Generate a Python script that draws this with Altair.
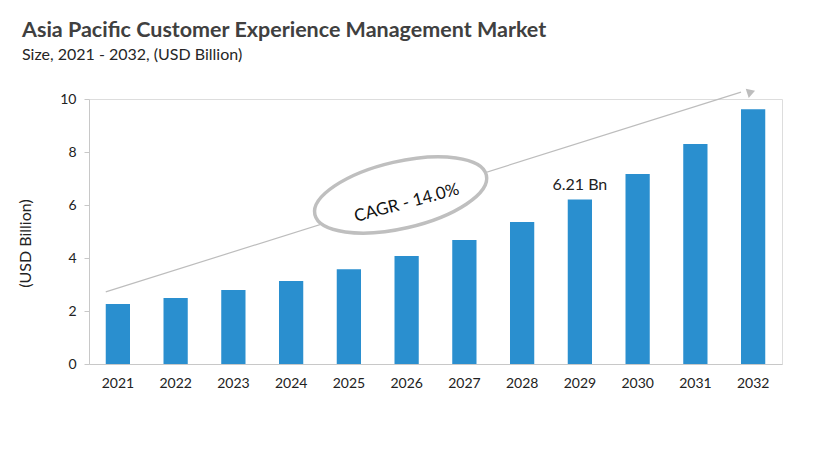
import altair as alt
import pandas as pd

years = ["2021", "2022", "2023", "2024", "2025", "2026", "2027", "2028", "2029", "2030", "2031", "2032"]
values = [2.26, 2.49, 2.79, 3.13, 3.58, 4.08, 4.68, 5.36, 6.21, 7.17, 8.30, 9.61]

label_year = ["2029"]
label_value = [6.21]
label_text = ["6.21 Bn"]

arrow_years = ["2021", "2032"]
arrow_values = [2.72, 10.26]

cagr_year = ["2026"]
cagr_value = [6.38]
cagr_text = ["CAGR - 14.0%"]

FONT = "Lato"
BAR = "#2a8fcf"

df = pd.DataFrame({"year": years, "value": values})
df_lab = pd.DataFrame({"year": label_year, "value": label_value, "text": label_text})
df_arrow = pd.DataFrame({"year": arrow_years, "value": arrow_values})
df_head = df_arrow.iloc[[1]]
df_cagr = pd.DataFrame({"year": cagr_year, "value": cagr_value, "text": cagr_text})

x = alt.X("year:N", sort=years, title=None,
          scale=alt.Scale(paddingInner=0.58, paddingOuter=0.29),
          axis=alt.Axis(labelAngle=0, labelFont=FONT, labelFontSize=14, labelColor="#222222",
                        labelPadding=12, ticks=False, domainColor="#c8c8c8", grid=False))
y = alt.Y("value:Q", title="(USD Billion)",
          scale=alt.Scale(domain=[0, 10], nice=False),
          axis=alt.Axis(values=[0, 2, 4, 6, 8, 10], labelFont=FONT, labelFontSize=14,
                        labelColor="#222222", tickColor="#c8c8c8", tickSize=5, labelPadding=8,
                        domainColor="#c8c8c8", grid=False, titleFont=FONT, titleFontSize=16,
                        titleFontWeight="normal", titleColor="#222222", titleX=-64, titleY=144,
                        titleAlign="center", titleBaseline="middle"))

bars = alt.Chart(df).mark_bar(color=BAR).encode(x=x, y=y)

labels = alt.Chart(df_lab).mark_text(font=FONT, fontSize=16, color="#222222", dy=-14).encode(
    x=alt.X("year:N", sort=years), y="value:Q", text="text:N")

arrow_line = alt.Chart(df_arrow).mark_line(color="#bdbdbd", strokeWidth=1.2).encode(
    x=alt.X("year:N", sort=years), y="value:Q",
    xOffset=alt.value(0))

arrow_head = alt.Chart(df_head).mark_point(shape="triangle-right", filled=True, color="#bdbdbd",
                                           size=90, angle=342, opacity=1, xOffset=-2).encode(
    x=alt.X("year:N", sort=years), y="value:Q")

ellipse_path = "M -1 0 A 1 0.38 0 1 0 1 0 A 1 0.38 0 1 0 -1 0 Z"
ellipse = alt.Chart(df_cagr).mark_point(shape=ellipse_path, size=176 * 176, angle=347,
                                        filled=False, fill="white", fillOpacity=1,
                                        stroke="#bfbfbf", strokeWidth=3.5, opacity=1,
                                        xOffset=-6).encode(
    x=alt.X("year:N", sort=years), y="value:Q")

cagr = alt.Chart(df_cagr).mark_text(font=FONT, fontSize=17, color="#111111", angle=345,
                                    dx=-2, dy=8).encode(
    x=alt.X("year:N", sort=years), y="value:Q", text="text:N")

chart = alt.layer(bars, arrow_line, arrow_head, ellipse, cagr, labels).properties(
    width=693, height=265,
    title=alt.TitleParams(
        "Asia Pacific Customer Experience Management Market",
        subtitle="Size, 2021 - 2032, (USD Billion)",
        anchor="start", frame="group", dx=-67, offset=26,
        font=FONT, fontSize=21.5, fontWeight="bold", color="#404040",
        subtitleFont=FONT, subtitleFontSize=16, subtitleColor="#262626", subtitlePadding=5),
    autosize=alt.AutoSizeParams(type="none"),
    padding={"left": 81, "top": 91, "right": 27, "bottom": 80},
).configure_view(stroke=None).configure(background="white")

chart.save("out.html", embed_options={"renderer": "svg", "actions": False})
